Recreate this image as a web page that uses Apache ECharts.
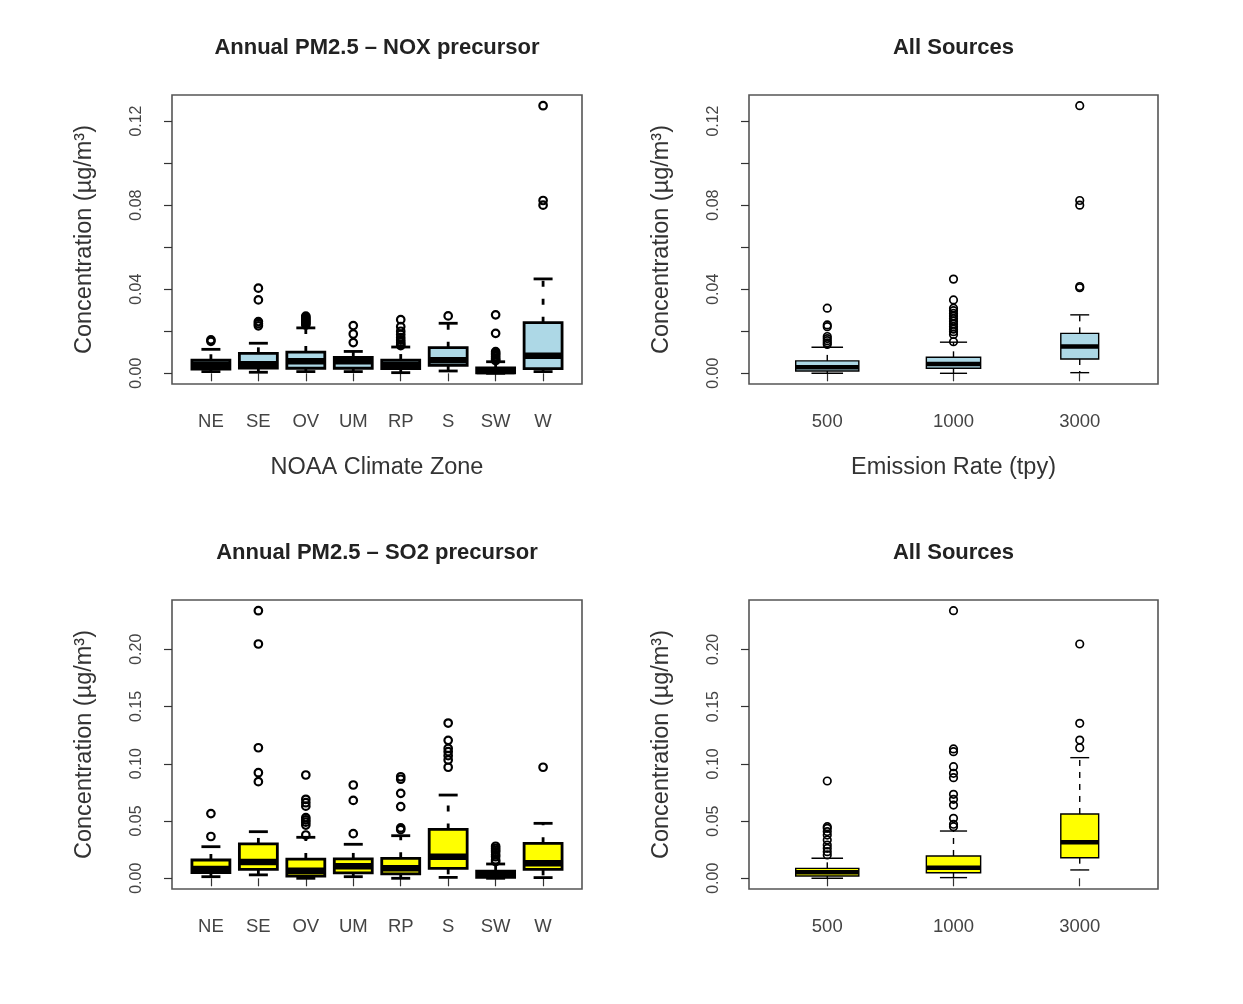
<!DOCTYPE html>
<html><head><meta charset="utf-8">
<script src="https://cdn.jsdelivr.net/npm/echarts@6/dist/echarts.min.js"></script>
<style>html,body{margin:0;padding:0;background:#fff}#chart{width:1243px;height:1004px}</style>
</head><body><div id="chart"></div>
<script>
// ---------------- data ----------------
const zones = ['NE', 'SE', 'OV', 'UM', 'RP', 'S', 'SW', 'W'];
const rates = ['500', '1000', '3000'];

// each box: [lower whisker, Q1, median, Q3, upper whisker]
const noxZoneStats = [
  [0.0008, 0.0020, 0.0040, 0.0062, 0.0114],
  [0.0005, 0.0025, 0.0043, 0.0095, 0.0143],
  [0.0008, 0.0024, 0.0057, 0.0101, 0.0216],
  [0.0008, 0.0024, 0.0057, 0.0076, 0.0104],
  [0.0003, 0.0022, 0.0041, 0.0063, 0.0125],
  [0.0011, 0.0038, 0.0062, 0.0122, 0.0238],
  [0.0000, 0.0002, 0.0011, 0.0026, 0.0055],
  [0.0008, 0.0022, 0.0084, 0.0241, 0.0449]
];
const noxZoneOutliers = [
  [0.0159, 0.0152],
  [0.0405, 0.0349, 0.0246, 0.0236, 0.0226],
  [0.0272, 0.0266, 0.0260, 0.0254, 0.0248, 0.0242, 0.0236, 0.0230],
  [0.0227, 0.0187, 0.0146],
  [0.0255, 0.0222, 0.0200, 0.0185, 0.0170, 0.0158, 0.0148, 0.0138, 0.0132],
  [0.0273],
  [0.0278, 0.0190, 0.0103, 0.0095, 0.0088, 0.0080, 0.0072, 0.0065, 0.0060],
  [0.1273, 0.0822, 0.0800]
];

const noxRateStats = [
  [0.0000, 0.0011, 0.0029, 0.0059, 0.0124],
  [0.0000, 0.0024, 0.0044, 0.0076, 0.0148],
  [0.0003, 0.0068, 0.0127, 0.0190, 0.0278]
];
const noxRateOutliers = [
  [0.0310, 0.0230, 0.0222, 0.0175, 0.0165, 0.0155, 0.0145, 0.0137],
  [0.0448, 0.0349, 0.0310, 0.0298, 0.0285, 0.0272, 0.0260, 0.0248, 0.0235, 0.0222, 0.0210, 0.0198, 0.0185, 0.0150],
  [0.1273, 0.0822, 0.0800, 0.0413, 0.0407]
];

const so2ZoneStats = [
  [0.0014, 0.0050, 0.0082, 0.0160, 0.0276],
  [0.0030, 0.0078, 0.0142, 0.0300, 0.0407],
  [0.0000, 0.0020, 0.0066, 0.0168, 0.0358],
  [0.0014, 0.0047, 0.0105, 0.0169, 0.0297],
  [0.0000, 0.0038, 0.0087, 0.0174, 0.0372],
  [0.0008, 0.0087, 0.0189, 0.0427, 0.0727],
  [0.0000, 0.0008, 0.0030, 0.0062, 0.0125],
  [0.0006, 0.0078, 0.0131, 0.0305, 0.0480]
];
const so2ZoneOutliers = [
  [0.0565, 0.0365],
  [0.2337, 0.2046, 0.1140, 0.0922, 0.0844],
  [0.0902, 0.0690, 0.0660, 0.0630, 0.0530, 0.0510, 0.0490, 0.0465, 0.0378],
  [0.0815, 0.0680, 0.0390],
  [0.0887, 0.0865, 0.0742, 0.0626, 0.0440, 0.0425],
  [0.1356, 0.1205, 0.1135, 0.1106, 0.1071, 0.1033, 0.0970],
  [0.0280, 0.0262, 0.0245, 0.0230, 0.0205, 0.0188, 0.0160, 0.0145],
  [0.0970]
];

const so2RateStats = [
  [0.0000, 0.0020, 0.0052, 0.0087, 0.0175],
  [0.0006, 0.0049, 0.0093, 0.0195, 0.0413],
  [0.0073, 0.0180, 0.0314, 0.0562, 0.1054]
];
const so2RateOutliers = [
  [0.0850, 0.0451, 0.0437, 0.0408, 0.0378, 0.0335, 0.0291, 0.0262, 0.0233, 0.0204],
  [0.2338, 0.1130, 0.1106, 0.0975, 0.0917, 0.0879, 0.0734, 0.0690, 0.0640, 0.0524, 0.0472, 0.0451],
  [0.2047, 0.1354, 0.1208, 0.1141]
];

const topTicks = [0, 0.02, 0.04, 0.06, 0.08, 0.10, 0.12];
const topTickLabels = [0, 0.04, 0.08, 0.12];
const bottomTicks = [0, 0.05, 0.10, 0.15, 0.20];
const bottomTickLabels = [0, 0.05, 0.10, 0.15, 0.20];

const panelTitles = ['Annual PM2.5 \u2013 NOX precursor', 'All Sources', 'Annual PM2.5 \u2013 SO2 precursor', 'All Sources'];
const xTitles = ['NOAA Climate Zone', 'Emission Rate (tpy)', '', ''];
const yTitle = 'Concentration (\u00b5g/m\u00b3)';

// ---------------- layout / style ----------------
const FONT = 'Liberation Sans, Arial, Helvetica, sans-serif';
const BLUE = '#ADD8E6', YELLOW = '#FFFF00';
const zoneStyle = { widths: zones.map(() => 0.8), lw: 2.8, medLw: 6.5, dash: [6, 12], ptW: 2.2 };
const rateStyle = { widths: [0.5, 0.43, 0.3], lw: 1.4, medLw: 4.5, dash: [6, 6], ptW: 1.7 };

const panels = [
  { cats: zones, stats: noxZoneStats, outl: noxZoneOutliers, ticks: topTicks, labels: topTickLabels, fill: BLUE, frame: [172, 95, 410, 289], st: zoneStyle },
  { cats: rates, stats: noxRateStats, outl: noxRateOutliers, ticks: topTicks, labels: topTickLabels, fill: BLUE, frame: [749, 95, 409, 289], st: rateStyle },
  { cats: zones, stats: so2ZoneStats, outl: so2ZoneOutliers, ticks: bottomTicks, labels: bottomTickLabels, fill: YELLOW, frame: [172, 600, 410, 289], st: zoneStyle },
  { cats: rates, stats: so2RateStats, outl: so2RateOutliers, ticks: bottomTicks, labels: bottomTickLabels, fill: YELLOW, frame: [749, 600, 409, 289], st: rateStyle }
];

const grid = [], xAxis = [], yAxis = [], series = [], title = [];

panels.forEach((p, i) => {
  const [L, T, W, H] = p.frame;
  const n = p.cats.length;
  const off = W * 0.04 * n / (1.08 * n);
  // y-range like R: data range extended by 4%
  const all = p.stats.flat().concat(p.outl.flat());
  const lo = Math.min(...all), hi = Math.max(...all);
  const pad = (hi - lo) * 0.04;
  const ymin = lo - pad, ymax = hi + pad;
  const fg = 2 * i, dg = 2 * i + 1;

  grid.push({ left: L, top: T, width: W, height: H, show: true, borderColor: '#555', borderWidth: 1.6,
              backgroundColor: 'transparent', containLabel: false, outerBoundsMode: 'none' });
  grid.push({ left: L + off, top: T, width: W - 2 * off, height: H, show: false, containLabel: false, outerBoundsMode: 'none' });

  xAxis.push({ type: 'value', gridIndex: fg, min: 0, max: 1, show: false });
  yAxis.push({
    type: 'value', gridIndex: fg, min: ymin, max: ymax,
    axisLine: { show: false }, splitLine: { show: false },
    axisTick: { show: true, inside: false, length: 8, customValues: p.ticks, lineStyle: { color: '#333', width: 1.2 } },
    axisLabel: { show: true, customValues: p.labels, rotate: 90, margin: 27, fontSize: 16, color: '#444', fontFamily: FONT,
                 formatter: v => Number(v).toFixed(2) },
    name: yTitle, nameLocation: 'middle', nameRotate: 90, nameGap: 75,
    nameTextStyle: { fontSize: 23.5, color: '#333', fontFamily: FONT }
  });

  xAxis.push({
    type: 'category', gridIndex: dg, data: p.cats, boundaryGap: true,
    axisLine: { show: false }, splitLine: { show: false },
    axisTick: { show: true, alignWithLabel: true, length: 8, lineStyle: { color: '#333', width: 1.2 } },
    axisLabel: { interval: 0, margin: 28, fontSize: 18.5, color: '#444', fontFamily: FONT },
    name: xTitles[i], nameLocation: 'middle', nameGap: 72,
    nameTextStyle: { fontSize: 23.5, color: '#333', fontFamily: FONT }
  });
  yAxis.push({ type: 'value', gridIndex: dg, min: ymin, max: ymax, show: false });

  const st = p.st;
  series.push({
    type: 'custom', xAxisIndex: dg, yAxisIndex: dg, silent: true,
    data: p.stats.map((s, k) => [k].concat(s)),
    renderItem: (params, api) => {
      const k = api.value(0);
      const band = api.size([1, 0])[0];
      const half = band * st.widths[params.dataIndex] / 2;
      const q = half / 2;
      const pt = v => api.coord([k, v]);
      const [x, yLw] = pt(api.value(1));
      const yQ1 = pt(api.value(2))[1];
      const yMed = pt(api.value(3))[1];
      const yQ3 = pt(api.value(4))[1];
      const yUw = pt(api.value(5))[1];
      const ls = { stroke: '#000', lineWidth: st.lw, fill: null };
      return {
        type: 'group',
        children: [
          { type: 'line', shape: { x1: x, y1: yQ1, x2: x, y2: yLw }, style: Object.assign({ lineDash: st.dash }, ls) },
          { type: 'line', shape: { x1: x, y1: yQ3, x2: x, y2: yUw }, style: Object.assign({ lineDash: st.dash }, ls) },
          { type: 'line', shape: { x1: x - q, y1: yLw, x2: x + q, y2: yLw }, style: ls },
          { type: 'line', shape: { x1: x - q, y1: yUw, x2: x + q, y2: yUw }, style: ls },
          { type: 'rect', shape: { x: x - half, y: yQ3, width: 2 * half, height: yQ1 - yQ3 },
            style: { fill: p.fill, stroke: '#000', lineWidth: st.lw } },
          { type: 'line', shape: { x1: x - half, y1: yMed, x2: x + half, y2: yMed },
            style: { stroke: '#000', lineWidth: st.medLw, lineCap: 'butt' } }
        ]
      };
    }
  });

  const pts = [];
  p.outl.forEach((arr, k) => arr.forEach(v => pts.push([k, v])));
  series.push({
    type: 'scatter', xAxisIndex: dg, yAxisIndex: dg, silent: true, z: 5,
    data: pts, symbol: 'circle', symbolSize: 7.5,
    itemStyle: { color: 'rgba(0,0,0,0)', borderColor: '#000', borderWidth: st.ptW, opacity: 1 }
  });

  title.push({
    text: panelTitles[i], left: L + W / 2, top: T - 58, textAlign: 'center', padding: 0,
    textStyle: { fontSize: 22, fontWeight: 'bold', color: '#222', fontFamily: FONT }
  });
});

const chart = echarts.init(document.getElementById('chart'), null, { renderer: 'canvas' });
chart.setOption({ animation: false, backgroundColor: '#fff', title, grid, xAxis, yAxis, series });
</script></body></html>
